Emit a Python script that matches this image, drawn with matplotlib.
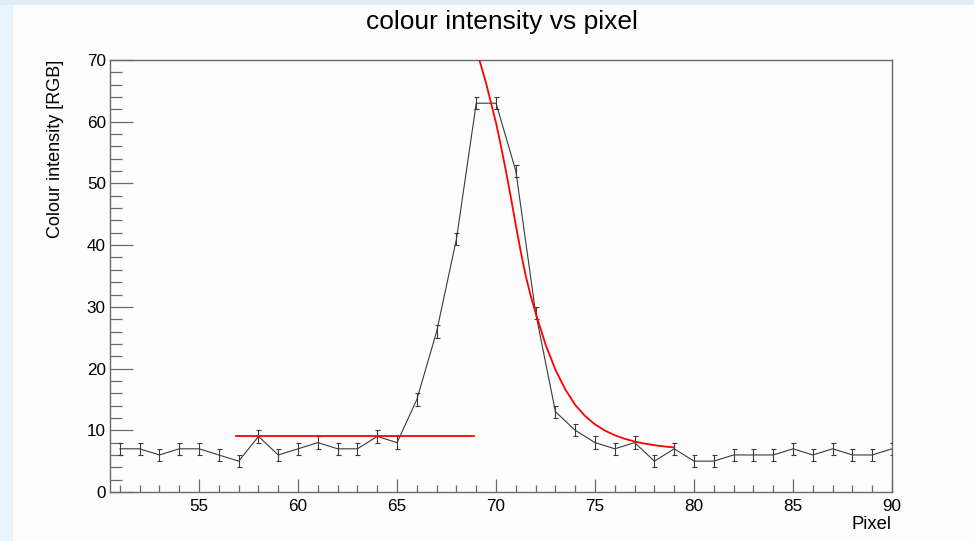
import matplotlib
matplotlib.use("Agg")
import matplotlib.pyplot as plt
from matplotlib.patches import Rectangle
from matplotlib.ticker import MultipleLocator

# ---- data ----
pixel = [51, 52, 53, 54, 55, 56, 57, 58, 59, 60,
         61, 62, 63, 64, 65, 66, 67, 68, 69, 70,
         71, 72, 73, 74, 75, 76, 77, 78, 79, 80,
         81, 82, 83, 84, 85, 86, 87, 88, 89, 90]
intensity = [7, 7, 6, 7, 7, 6, 5, 9, 6, 7,
             8, 7, 7, 9, 8, 15, 26, 41, 63, 63,
             52, 29, 13, 10, 8, 7, 8, 5, 7, 5,
             5, 6, 6, 6, 7, 6, 7, 6, 6, 7]
errors = [1.0] * len(pixel)

# flat fit (background level)
flat_x = [56.85, 68.9]
flat_y = [9.0, 9.0]

# decay fit curve
decay_x = [69.15, 69.5, 70.0, 70.25, 70.5, 70.75, 71.0, 71.25, 71.5, 71.75,
           72.0, 72.5, 73.0, 73.5, 74.0, 74.5, 75.0, 75.5, 76.0, 76.5,
           77.0, 77.5, 78.0, 78.5, 79.0]
decay_y = [70.1, 66.2, 59.8, 56.0, 52.0, 47.7, 43.2, 38.9, 35.0, 31.8,
           29.0, 23.9, 19.8, 16.6, 14.1, 12.3, 10.95, 9.95, 9.2, 8.62,
           8.18, 7.84, 7.58, 7.38, 7.22]

plt.rcParams['font.family'] = ['Liberation Sans', 'DejaVu Sans']

fig = plt.figure(figsize=(9.74, 5.41), dpi=100)
fig.patch.set_facecolor('#fdfdfd')
# light blue window edges of the screenshot
fig.patches.append(Rectangle((0, 0), 13 / 974, 1, transform=fig.transFigure,
                             facecolor='#e8f3fb', edgecolor='none', zorder=0))
fig.patches.append(Rectangle((0, 1 - 4.5 / 541), 1, 4.5 / 541, transform=fig.transFigure,
                             facecolor='#deeef9', edgecolor='none', zorder=0))

ax = fig.add_axes([110 / 974, 49 / 541, 782 / 974, 432 / 541])
ax.set_facecolor('#fdfdfd')

ax.errorbar(pixel, intensity, yerr=errors, color='#3a3a3a', linewidth=0.8,
            elinewidth=0.8, capsize=1.8, capthick=0.8, zorder=3)
ax.plot(flat_x, flat_y, color='#ff0000', linewidth=1.3, zorder=4)
ax.plot(decay_x, decay_y, color='#ff0000', linewidth=1.3, zorder=4,
        solid_joinstyle='round')

ax.set_xlim(50.5, 90)
ax.set_ylim(0, 70)

ax.xaxis.set_major_locator(MultipleLocator(5))
ax.xaxis.set_minor_locator(MultipleLocator(1))
ax.yaxis.set_major_locator(MultipleLocator(10))
ax.yaxis.set_minor_locator(MultipleLocator(2))

for s in ax.spines.values():
    s.set_color('#6a6a6a')
    s.set_linewidth(1.0)

ax.tick_params(axis='x', which='major', direction='in', length=9.5, width=0.9,
               color='#6a6a6a', labelsize=12.3, pad=5, top=False)
ax.tick_params(axis='x', which='minor', direction='in', length=5, width=0.9,
               color='#6a6a6a', top=False)
ax.tick_params(axis='y', which='major', direction='in', length=16.5, width=0.9,
               color='#6a6a6a', labelsize=12.3, pad=3, right=False)
ax.tick_params(axis='y', which='minor', direction='in', length=8.5, width=0.9,
               color='#6a6a6a', right=False)

fig.text(502 / 974, 1 - 22 / 541, 'colour intensity vs pixel', ha='center', va='center',
         fontsize=19)
ax.set_xlabel('Pixel', fontsize=13.3)
ax.xaxis.set_label_coords(1.0, -0.055)
ax.xaxis.label.set_horizontalalignment('right')
ax.set_ylabel('Colour intensity [RGB]', fontsize=13)
ax.yaxis.set_label_coords(-0.07, 1.0)
ax.yaxis.label.set_verticalalignment('center')
ax.yaxis.label.set_horizontalalignment('right')

fig.savefig('out.png', dpi=100, facecolor=fig.get_facecolor())
